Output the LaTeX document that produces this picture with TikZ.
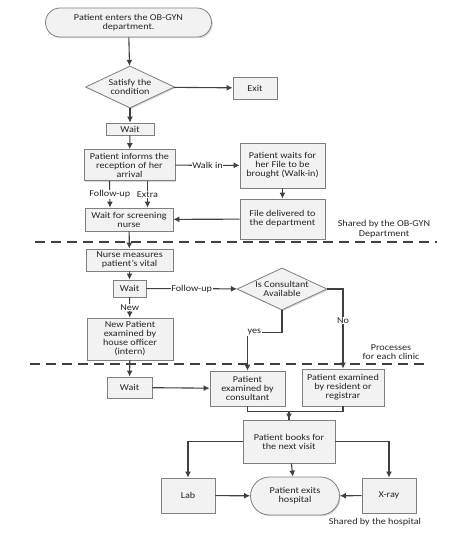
\documentclass[tikz,border=0pt]{standalone}
\usepackage{fontspec}
\setmainfont{Carlito}[FakeStretch=1.13]
\usetikzlibrary{arrows.meta,shapes.geometric,shapes.misc,shadows,calc}
\definecolor{boxfill}{HTML}{F2F2F2}
\definecolor{boxborder}{HTML}{7F7F7F}
\definecolor{linecol}{HTML}{404040}
\definecolor{txtcol}{HTML}{262626}
\tikzset{
  base/.style={draw=boxborder, fill=boxfill, line width=0.8pt, align=center, inner sep=0.5pt,
    text=txtcol, font=\fontsize{9}{9}\selectfont,
    drop shadow={shadow xshift=1.2pt, shadow yshift=-1.2pt, fill=black!30}},
  box/.style={base, rectangle},
  term/.style={base, rounded rectangle},
  decide/.style={base, diamond, aspect=2, inner sep=0pt},
  conn/.style={draw=linecol, line width=1.1pt, -{Latex[length=6pt,width=6pt]}},
  plain/.style={draw=linecol, line width=1.1pt},
  lbl/.style={fill=white, inner sep=0.5pt, text=txtcol, font=\fontsize{9}{9}\selectfont},
  note/.style={align=center, text=txtcol, font=\fontsize{9}{9.5}\selectfont},
  sep/.style={draw=linecol, line width=1.6pt, dash pattern=on 10pt off 6pt}
}
\begin{document}
\begin{tikzpicture}[x=1pt,y=-1pt]
\useasboundingbox (0,0) rectangle (474,542);
% nodes
\node[term, minimum width=167pt, minimum height=29pt] (start) at (128.5,22.5) {Patient enters the OB-GYN\\department.};
\node[decide, minimum width=89pt, minimum height=42pt] (d1) at (130,87) {Satisfy the\\condition};
\node[box, minimum width=44pt, minimum height=22pt] (exit) at (255,88) {Exit};
\node[box, minimum width=48pt, minimum height=12pt] (wait1) at (130,129) {Wait};
\node[box, minimum width=91pt, minimum height=31pt] (informs) at (129.5,165) {Patient informs the\\reception of her\\arrival};
\node[box, minimum width=85pt, minimum height=45pt] (pwait) at (282.5,165.5) {Patient waits for\\her File to be\\brought (Walk-in)};
\node[box, minimum width=88pt, minimum height=23pt] (screen) at (129,219.5) {Wait for screening\\nurse};
\node[box, minimum width=85pt, minimum height=40pt] (file) at (282.5,219) {File delivered to\\the department};
\node[box, minimum width=87pt, minimum height=22pt] (nurse) at (129.5,260) {Nurse measures\\patient's vital};
\node[box, minimum width=33pt, minimum height=17pt] (wait2) at (129.5,288.5) {Wait};
\node[decide, minimum width=90pt, minimum height=42pt] (d2) at (282,289) {Is Consultant\\Available};
\node[box, minimum width=86pt, minimum height=42pt] (newp) at (130,339) {New Patient\\examined by\\house officer\\(intern)};
\node[box, minimum width=45pt, minimum height=21pt] (wait3) at (129.5,387.5) {Wait};
\node[box, minimum width=75pt, minimum height=35pt] (cons) at (247.5,388.5) {Patient\\examined by\\consultant};
\node[box, minimum width=82pt, minimum height=37pt] (res) at (343,387.5) {Patient examined\\by resident or\\registrar};
\node[box, minimum width=92pt, minimum height=43pt] (books) at (289,441.5) {Patient books for\\the next visit};
\node[box, minimum width=54pt, minimum height=35pt] (lab) at (188,495.5) {Lab};
\node[term, minimum width=90pt, minimum height=38pt] (exits) at (295,496) {Patient exits\\hospital};
\node[box, minimum width=54pt, minimum height=35pt] (xray) at (389,495.5) {X-ray};
% notes
\node[note] (n1) at (384,229) {Shared by the OB-GYN\\Department};
\node[note] (n2) at (391,352) {Processes\\for each clinic};
\node[note] (n3) at (375,522) {Shared by the hospital};
% separators
\coordinate (s1a) at (35,242); \coordinate (s1b) at (437,242);
\coordinate (s2a) at (30,364); \coordinate (s2b) at (425,364);
\draw[sep] (s1a) -- (s1b);
\draw[sep] (s2a) -- (s2b);
% connectors
\draw[conn] (start) -- (d1);
\draw[conn] (d1) -- (exit);
\draw[conn] (d1) -- (wait1);
\draw[conn] (wait1) -- (informs);
\draw[conn] (informs) -- node[lbl]{Walk in} (pwait);
\draw[conn] ($(informs.south)+(-20,0)$) -- node[lbl]{Follow-up} ($(screen.north)+(-19,0)$);
\draw[conn] ($(informs.south)+(18,0)$) -- node[lbl]{Extra} ($(screen.north)+(18.5,0)$);
\draw[conn] (pwait) -- (file);
\draw[conn] (file) -- (screen);
\draw[conn] (screen) -- (nurse);
\draw[conn] (nurse) -- (wait2);
\draw[conn] (wait2) -- node[lbl]{Follow-up} (d2);
\draw[conn] (wait2) -- node[lbl]{New} (newp);
\draw[conn] (d2.south) -- ($(d2.south)+(0,22)$) -| node[lbl, pos=0.4]{yes} (cons.north);
\draw[conn] (d2.east) -| node[lbl, pos=0.7]{No} (res.north);
\draw[conn] (newp) -- (wait3);
\draw[conn] (wait3) -- (cons);
\draw[conn] (cons.south) -- ++(0,5) -| (books.north);
\draw[plain] (res.south) -- ++(0,5) -| (books.north);
\draw[conn] (books.west) -| (lab.north);
\draw[conn] (books.east) -| (xray.north);
\draw[conn] (books) -- (exits);
\draw[conn] (lab) -- (exits);
\draw[conn] (xray) -- (exits);
\end{tikzpicture}
\end{document}
